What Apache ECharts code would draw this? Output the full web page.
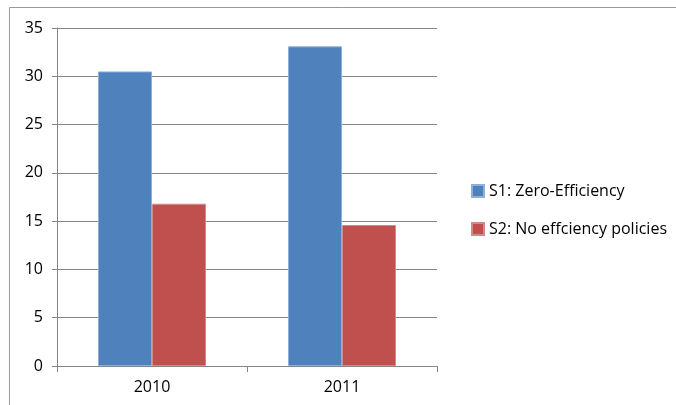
<!DOCTYPE html>
<html><head><meta charset="utf-8">
<script src="https://cdn.jsdelivr.net/npm/echarts@6/dist/echarts.min.js"></script>
<style>html,body{margin:0;padding:0;background:#fff}#c{width:676px;height:405px}</style>
</head><body><div id="c"></div>
<script>
const categories = ['2010', '2011'];
const s1Name = 'S1: Zero-Efficiency';
const s2Name = 'S2: No effciency policies';
const s1Values = [30.5, 33.1];
const s2Values = [16.8, 14.6];
const yTicks = [0, 5, 10, 15, 20, 25, 30, 35];

const chart = echarts.init(document.getElementById('c'));
const font = "'Open Sans', 'Liberation Sans', sans-serif";
chart.setOption({
  animation: false,
  backgroundColor: '#fff',
  textStyle: { fontFamily: font },
  graphic: [{
    type: 'polyline', shape: { points: [[9.5, 405], [9.5, 7.5], [676, 7.5]] },
    style: { stroke: '#999', lineWidth: 1, fill: null }
  }],
  grid: { left: 57, right: 239, top: 28, bottom: 39 },
  legend: {
    orient: 'vertical', left: 466, top: 176, itemGap: 18,
    itemWidth: 12, itemHeight: 12, icon: 'rect',
    textStyle: { fontFamily: font, fontSize: 16, lineHeight: 20, color: '#000' },
    data: [s1Name, s2Name]
  },
  xAxis: {
    type: 'category', data: categories,
    axisLine: { lineStyle: { color: '#868686' } },
    axisTick: { show: true, length: 6, lineStyle: { color: '#868686' } },
    axisLabel: { color: '#000', fontSize: 16, margin: 13, fontFamily: font }
  },
  yAxis: {
    type: 'value', min: yTicks[0], max: yTicks[yTicks.length - 1], interval: 5,
    axisLine: { show: true, lineStyle: { color: '#868686' } },
    axisTick: { show: true, length: 5, lineStyle: { color: '#868686' } },
    splitLine: { lineStyle: { color: '#868686' } },
    axisLabel: { color: '#000', fontSize: 16, margin: 14, fontFamily: font }
  },
  series: [
    { name: s1Name, type: 'bar', data: s1Values, barWidth: 54, barGap: '0%',
      itemStyle: { color: '#4F81BD', borderColor: '#8DAFD8', borderWidth: 1 } },
    { name: s2Name, type: 'bar', data: s2Values, barWidth: 54,
      itemStyle: { color: '#C0504D', borderColor: '#D08A88', borderWidth: 1 } }
  ]
});
</script></body></html>
